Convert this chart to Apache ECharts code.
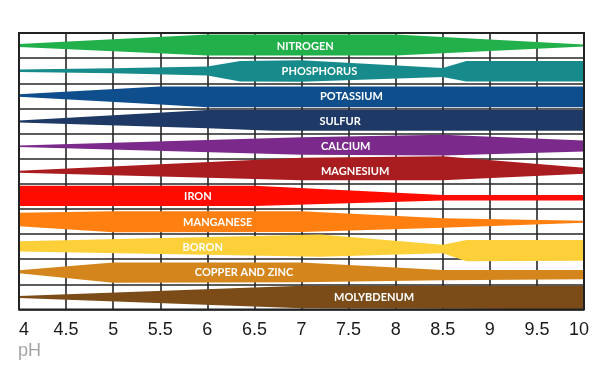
<!DOCTYPE html>
<html>
<head>
<meta charset="utf-8">
<script src="https://cdn.jsdelivr.net/npm/echarts@6/dist/echarts.min.js"></script>
<style>html,body{margin:0;padding:0;background:#fff}#c{width:600px;height:375px}</style>
</head>
<body>
<div id="c"></div>
<script>
// pH axis ticks
const phTicks = [4, 4.5, 5, 5.5, 6, 6.5, 7, 7.5, 8, 8.5, 9, 9.5, 10];
// nutrient names (top to bottom)
const nutrients = ['NITROGEN', 'PHOSPHORUS', 'POTASSIUM', 'SULFUR', 'CALCIUM', 'MAGNESIUM',
                   'IRON', 'MANGANESE', 'BORON', 'COPPER AND ZINC', 'MOLYBDENUM'];
const colors = ['#22b04b', '#178b8b', '#0e4e8c', '#1f3966', '#7b2a8c', '#a91c20',
                '#ff0c00', '#ff7f10', '#fdd03a', '#d4861d', '#7b4c18'];
// availability profiles: [pH, spread above centre, spread below centre] (approx. 10 = full half band)
const nitrogen   = [[4, 1.5, 1.5], [6, 11, 10], [8, 11, 10], [10, 1, 1]];
const phosphorus = [[4, 1.2, 1.2], [5, 2.5, 2.5], [6, 4.3, 4.7], [6.35, 9.7, 10.7], [7, 10.3, 11], [8.5, 2.7, 6.3], [8.75, 9.7, 10.7], [10, 9.7, 10.7]];
const potassium  = [[4, 1.5, 1], [5.5, 9.2, 8.5], [6, 9.2, 11.3], [10, 9.2, 11.3]];
const sulfur     = [[4, 0.5, 1.5], [6, 10.8, 7.2], [6.7, 10.8, 9.8], [10, 10.8, 9.8]];
const calcium    = [[4, 0.5, 1], [7, 8.7, 8.7], [8.5, 11.3, 9.3], [10, 5.7, 5.3]];
const magnesium  = [[4, 0.5, 1.5], [7, 13.5, 9], [8.5, 15, 9], [10, 3.5, 2.5]];
const iron       = [[4, 10.5, 9.5], [6.5, 10.5, 9.5], [8.5, 1.5, 4.2], [10, 1.5, 4.2]];
const manganese  = [[4, 8.7, 4.7], [5, 10.3, 10.7], [7, 10.3, 10.5], [8.5, 3.2, 6.3], [10, 0.8, 1.2]];
const boron      = [[4, 5.3, 4.7], [7.2, 12, 10], [8.5, 2, 6.5], [8.75, 6.5, 14.5], [10, 6.5, 14]];
const copperZinc = [[4, 1.5, 1.5], [5, 9.3, 11], [7, 9.3, 10.5], [8.5, 1.7, 8.3], [10, 1.7, 7.3]];
const molybdenum = [[4, 1, 1], [7, 11, 11.3], [10, 11, 12.3]];
// pH at which each nutrient's name is written
const labelPH = [7.04, 7.19, 7.53, 7.41, 7.47, 7.57, 5.90, 6.11, 5.95, 6.39, 7.77];

const profiles = [nitrogen, phosphorus, potassium, sulfur, calcium, magnesium,
                  iron, manganese, boron, copperZinc, molybdenum];
const UNIT = 1 / 25; // profile units -> row units

const chart = echarts.init(document.getElementById('c'), null, {renderer: 'canvas'});
const tickFont = 'Liberation Sans, Arial, sans-serif';
chart.setOption({
  animation: false,
  backgroundColor: '#fff',
  title: {
    text: 'pH', left: 18, top: 342, padding: 0,
    textStyle: {color: '#a3a3a3', fontSize: 18, fontWeight: 'normal', fontFamily: tickFont}
  },
  grid: {
    left: 19, right: 16, top: 33, bottom: 65.5,
    show: true, z: 5, borderColor: '#222', borderWidth: 2, backgroundColor: 'transparent'
  },
  xAxis: {
    type: 'value', min: phTicks[0], max: phTicks[phTicks.length - 1], interval: 0.5,
    axisLine: {show: false}, axisTick: {show: false},
    splitLine: {show: true, lineStyle: {color: '#262626', width: 1.6}},
    axisLabel: {
      show: true, margin: 12, fontSize: 18, color: '#1a1a1a', fontFamily: tickFont,
      alignMinLabel: 'left',
      formatter: function (v) { return v === 10 ? '{e|10}' : String(v); },
      rich: {e: {padding: [0, 10, 0, 0], fontSize: 18, color: '#1a1a1a', fontFamily: tickFont}}
    }
  },
  yAxis: {
    type: 'value', min: 0, max: nutrients.length, interval: 1, inverse: true,
    axisLine: {show: false}, axisTick: {show: false}, axisLabel: {show: false},
    splitLine: {show: true, lineStyle: {color: '#262626', width: 1.6}}
  },
  series: [{
    type: 'custom',
    coordinateSystem: 'cartesian2d',
    clip: false,
    data: nutrients.map(function (n, i) { return [labelPH[i], i + 0.5]; }),
    renderItem: function (params, api) {
      const i = params.dataIndex;
      const prof = profiles[i];
      const c = i + 0.5;
      const top = prof.map(function (p) { return api.coord([p[0], c - p[1] * UNIT]); });
      const bot = prof.slice().reverse().map(function (p) { return api.coord([p[0], c + p[2] * UNIT]); });
      const lp = api.coord([labelPH[i], c]);
      return {
        type: 'group',
        children: [
          {type: 'polygon', shape: {points: top.concat(bot)}, style: {fill: colors[i]}},
          {type: 'text', x: lp[0], y: lp[1] + 0.5,
           style: {text: nutrients[i], fill: '#ffffff', font: 'bold 11px Lato, sans-serif',
                   align: 'center', verticalAlign: 'middle'}}
        ]
      };
    }
  }]
});
</script>
</body>
</html>
